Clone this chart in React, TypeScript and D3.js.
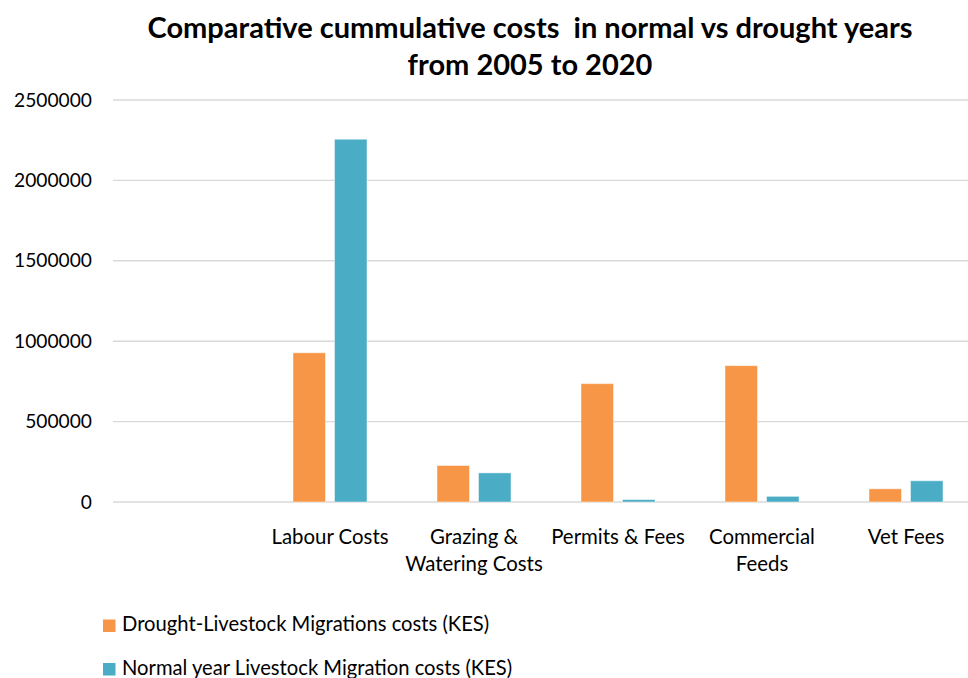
import React from "react";
import * as d3 from "d3";

// Cost categories (first slot intentionally empty) and series values in KES
const categories: string[] = ["", "Labour Costs", "Grazing & Watering Costs", "Permits & Fees", "Commercial Feeds", "Vet Fees"];
const categoryLines: string[][] = [[], ["Labour Costs"], ["Grazing &", "Watering Costs"], ["Permits & Fees"], ["Commercial", "Feeds"], ["Vet Fees"]];
const droughtCosts: (number | null)[] = [null, 928000, 227000, 736000, 848000, 82000];
const normalCosts: (number | null)[] = [null, 2256000, 181000, 15000, 35000, 132000];
const yTicks: number[] = [0, 500000, 1000000, 1500000, 2000000, 2500000];
const seriesNames: string[] = ["Drought-Livestock Migrations costs (KES)", "Normal year Livestock Migration costs (KES)"];
const seriesColors: string[] = ["#F79646", "#4BACC6"];
const titleLines: string[] = ["Comparative cummulative costs  in normal vs drought years", "from 2005 to 2020"];

const W = 968;
const H = 678;
const plot = { left: 114, right: 978, top: 100, bottom: 502 };
const FONT = "Lato, 'Open Sans', sans-serif";

export default function App() {
  const x = d3
    .scaleBand<number>()
    .domain(d3.range(categories.length))
    .range([plot.left, plot.right])
    .padding(0);
  const sub = d3
    .scaleBand<number>()
    .domain([0, 1])
    .range([-37, 37])
    .paddingInner(0.217)
    .paddingOuter(0);
  const y = d3.scaleLinear().domain([0, 2500000]).range([plot.bottom, plot.top]);
  const series = [droughtCosts, normalCosts];

  return (
    <svg
      width={W}
      height={H}
      style={{ position: "fixed", left: 0, top: 0, background: "#fff" }}
      fontFamily={FONT}
    >
      <rect x={0} y={0} width={W} height={H} fill="#fff" />
      {/* title */}
      <text x={530} y={38} textAnchor="middle" fontWeight={700} fontSize={29} fill="#000">
        <tspan x={530} xmlSpace="preserve">{titleLines[0]}</tspan>
        <tspan x={530} y={75}>{titleLines[1]}</tspan>
      </text>

      {/* gridlines and y tick labels */}
      {yTicks.map((t) => (
        <g key={t}>
          <line x1={plot.left - 1} x2={W} y1={y(t)} y2={y(t)} stroke="#D9D9D9" strokeWidth={1.4} />
          <text x={92} y={y(t) + 6.5} textAnchor="end" fontSize={19.2} fill="#000">
            {t}
          </text>
        </g>
      ))}

      {/* bars */}
      {series.map((vals, si) =>
        vals.map((v, ci) =>
          v == null ? null : (
            <rect
              key={`${si}-${ci}`}
              x={(x(ci) as number) + x.bandwidth() / 2 + (sub(si) as number)}
              y={y(v)}
              width={sub.bandwidth()}
              height={y(0) - y(v)}
              fill={seriesColors[si]}
              stroke="#fff"
              strokeOpacity={0.45}
              strokeWidth={1}
            />
          )
        )
      )}

      {/* category labels */}
      {categoryLines.map((lines, ci) =>
        lines.map((ln, li) => (
          <text
            key={`${ci}-${li}`}
            x={(x(ci) as number) + x.bandwidth() / 2}
            y={544 + li * 27}
            textAnchor="middle"
            fontSize={20.4}
            fill="#000"
          >
            {ln}
          </text>
        ))
      )}

      {/* legend */}
      {seriesNames.map((name, i) => (
        <g key={name} transform={`translate(0, ${i * 43.5})`}>
          <rect x={103} y={619.5} width={12.5} height={12.5} fill={seriesColors[i]} />
          <text x={122} y={631} fontSize={20.2} fill="#000">
            {name}
          </text>
        </g>
      ))}
    </svg>
  );
}
